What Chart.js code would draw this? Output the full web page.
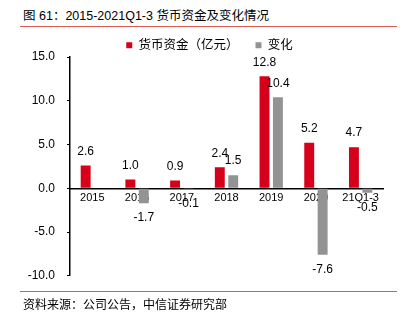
<!DOCTYPE html>
<html>
<head>
<meta charset="utf-8">
<script src="https://cdn.jsdelivr.net/npm/chart.js@4.4.0/dist/chart.umd.min.js"></script>
<style>
  body { margin: 0; background: #fff; width: 409px; height: 323px; overflow: hidden;
         font-family: "Liberation Sans", Arial, "Noto Sans CJK SC", sans-serif; color: #000; }
  .title { position: absolute; left: 23px; top: 8px; font-size: 12.5px; line-height: 16px; white-space: nowrap; }
  .rule { position: absolute; left: 20px; width: 377px; height: 1px; background: #dc5a55; }
  .source { position: absolute; left: 23px; top: 297px; font-size: 12px; line-height: 16px; white-space: nowrap; }
  .box { position: absolute; left: 0; top: 8px; width: 409px; height: 287px; }
</style>
</head>
<body>
<div class="title">图 61：2015-2021Q1-3 货币资金及变化情况</div>
<div class="rule" style="top:26px"></div>
<div class="box"><canvas id="cash"></canvas></div>
<div class="rule" style="top:291px"></div>
<div class="source">资料来源：公司公告，中信证券研究部</div>
<script>
const years = ["2015", "2016", "2017", "2018", "2019", "2020", "21Q1-3"];
const cash = [2.6, 1.0, 0.9, 2.4, 12.8, 5.2, 4.7];
const change = [null, -1.7, -0.1, 1.5, 10.4, -7.6, -0.5];
const yTicks = [-10, -5, 0, 5, 10, 15];

const FONT = '"Liberation Sans", Arial, "Noto Sans CJK SC", sans-serif';

// numbers above positive bars, below negative ones
const valueLabels = {
  id: "valueLabels",
  afterDatasetsDraw(chart) {
    const ctx = chart.ctx;
    ctx.save();
    ctx.font = "12px " + FONT;
    ctx.fillStyle = "#000";
    ctx.textAlign = "center";
    ctx.textBaseline = "middle";
    chart.data.datasets.forEach((ds, i) => {
      chart.getDatasetMeta(i).data.forEach((bar, j) => {
        const v = ds.data[j];
        if (v === null || v === undefined) return;
        const y = v >= 0 ? bar.y - 14 : bar.y + 15;
        ctx.fillText(v.toFixed(1), bar.x, y);
      });
    });
    ctx.restore();
  }
};

// nudge the legend right and down a bit
const legendShift = {
  id: "legendShift",
  afterLayout(chart) {
    chart.legend.left += 36;
    chart.legend.top += 4.5;
  }
};

new Chart(document.getElementById("cash"), {
  type: "bar",
  data: {
    labels: years,
    datasets: [
      {
        label: "货币资金（亿元）",
        data: cash,
        backgroundColor: "#d7001a",
        categoryPercentage: 0.6,
        barPercentage: 0.74,
      },
      {
        label: "变化",
        data: change,
        backgroundColor: "#939393",
        categoryPercentage: 0.6,
        barPercentage: 0.74,
      },
    ],
  },
  options: {
    responsive: true,
    maintainAspectRatio: false,
    animation: false,
    layout: { padding: { left: 0, right: 26, top: 9.5, bottom: 0 } },
    plugins: {
      legend: {
        display: true,
        position: "top",
        labels: {
          boxWidth: 6,
          boxHeight: 6,
          padding: 17,
          color: "#000",
          font: { size: 12.5, family: FONT },
        },
      },
      tooltip: { enabled: false },
    },
    scales: {
      x: {
        position: { y: 0 },
        grid: { display: false, drawTicks: false },
        border: { display: true, color: "#000", width: 1.5 },
        ticks: { color: "#000", padding: 3, font: { size: 11, family: FONT } },
      },
      y: {
        min: -10,
        max: 15,
        afterBuildTicks: (scale) => {
          scale.ticks = yTicks.map((v) => ({ value: v }));
        },
        afterFit: (scale) => {
          scale.width = 70;
        },
        grid: {
          display: true,
          drawOnChartArea: false,
          drawTicks: true,
          tickLength: 3,
          color: "#000",
        },
        border: { display: true, color: "#000", width: 1.5 },
        ticks: {
          color: "#000",
          padding: 12,
          font: { size: 12, family: FONT },
          callback: (v) => v.toFixed(1),
        },
      },
    },
  },
  plugins: [valueLabels, legendShift],
});
</script>
</body>
</html>
